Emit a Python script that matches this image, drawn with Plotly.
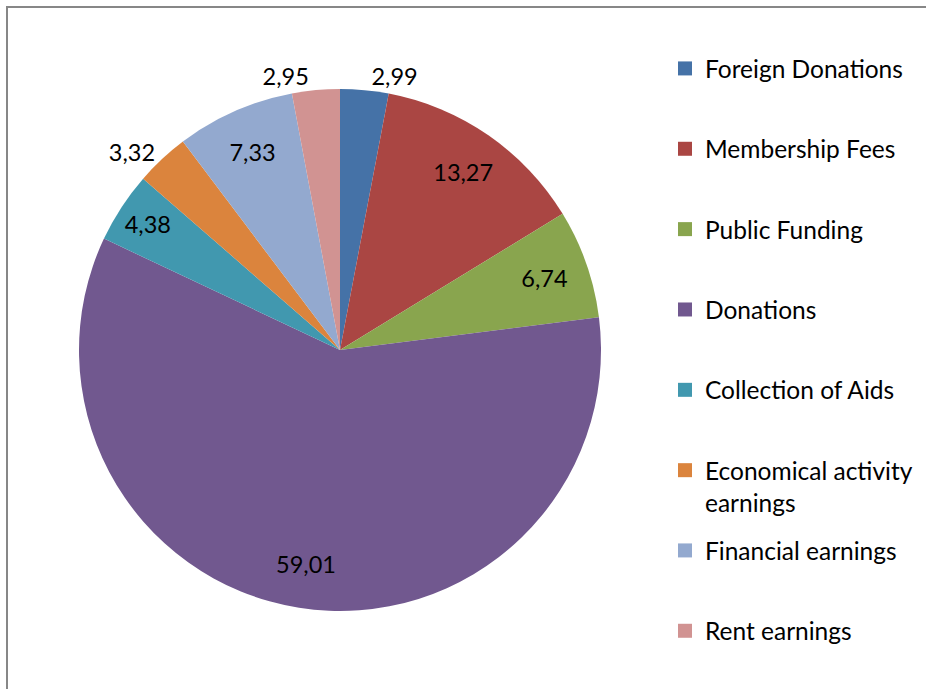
import plotly.graph_objects as go

categories = ["Foreign Donations", "Membership Fees", "Public Funding", "Donations",
              "Collection of Aids", "Economical activity<br>earnings",
              "Financial earnings", "Rent earnings"]
values = [2.99, 13.27, 6.74, 59.01, 4.38, 3.32, 7.33, 2.95]
value_labels = ["2,99", "13,27", "6,74", "59,01", "4,38", "3,32", "7,33", "2,95"]
label_positions = ["outside", "inside", "inside", "inside", "inside", "outside", "inside", "outside"]
colors = ["#4572A7", "#AA4643", "#89A54E", "#71588F", "#4198AF", "#DB843D", "#93A9CF", "#D19392"]

W, H = 926, 689
FONT = "Lato, Carlito, Calibri, sans-serif"

cx, cy, R = 340, 350, 261
domain = dict(x=[(cx - R) / W, (cx + R) / W], y=[1 - (cy + R) / H, 1 - (cy - R) / H])

fig = go.Figure()
# the pie itself
fig.add_trace(go.Pie(
    labels=categories, values=values,
    textinfo="none",
    marker=dict(colors=colors, line=dict(width=0)),
    sort=False, direction="clockwise", rotation=0,
    automargin=False, domain=domain, showlegend=False,
    hoverinfo="label+value",
))
# transparent ring carrying the value labels (pushes inside labels toward the rim)
fig.add_trace(go.Pie(
    labels=categories, values=values,
    text=value_labels, textinfo="text",
    textposition=label_positions,
    insidetextorientation="horizontal",
    textfont=dict(family=FONT, size=23.5, color="black"),
    hole=0.66,
    marker=dict(colors=["rgba(0,0,0,0)"] * len(values), line=dict(width=0)),
    sort=False, direction="clockwise", rotation=0,
    automargin=False, domain=domain, showlegend=False,
    hoverinfo="skip",
))

# legend entries (Excel spreads them evenly)
for i, (name, col) in enumerate(zip(categories, colors)):
    fig.add_trace(go.Scatter(
        x=[None], y=[None], mode="markers", name=name,
        marker=dict(symbol="square", size=14, color=col),
        legendgroup=f"g{i}",
        legend="legend" if i < 6 else "legend2",
        showlegend=True, hoverinfo="skip",
    ))

legend_common = dict(
    x=665 / W, xanchor="left", yanchor="top",
    font=dict(family=FONT, size=24.5, color="black"),
    valign="top", bgcolor="rgba(0,0,0,0)",
    traceorder="grouped", tracegroupgap=45.5,
)

fig.update_layout(
    width=W, height=H,
    margin=dict(l=0, r=0, t=0, b=0),
    paper_bgcolor="white", plot_bgcolor="white",
    font=dict(family=FONT, color="black"),
    showlegend=True,
    legend=dict(y=1 - 46 / H, **legend_common),
    legend2=dict(y=1 - 528 / H, **legend_common),
    xaxis=dict(visible=False, showgrid=False, zeroline=False),
    yaxis=dict(visible=False, showgrid=False, zeroline=False),
    shapes=[dict(type="rect", xref="paper", yref="paper",
                 x0=7 / W, x1=1.2, y0=-0.2, y1=1 - 7 / H,
                 line=dict(color="#878787", width=2), fillcolor="rgba(0,0,0,0)")],
)

fig.write_html("out.html", config={"displayModeBar": False},
               post_script="document.body.style.margin='0px';document.body.style.overflow='hidden';")
